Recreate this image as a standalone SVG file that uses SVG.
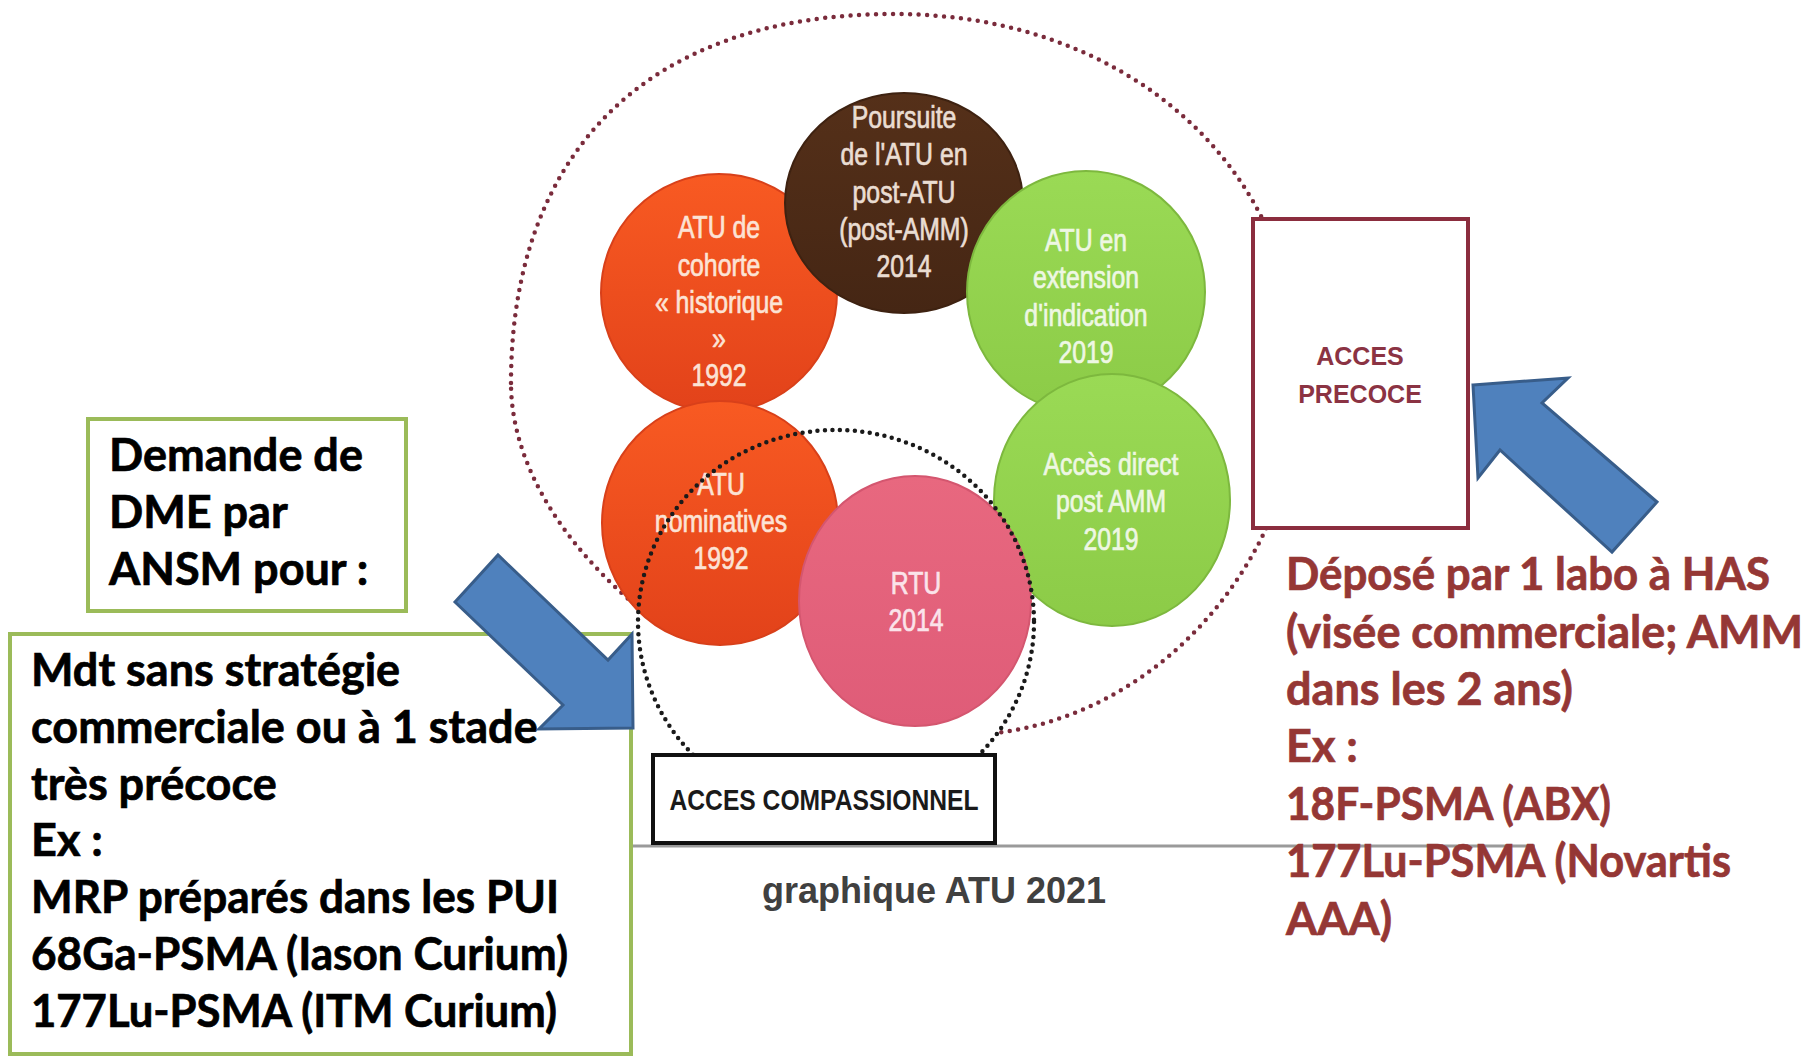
<svg xmlns="http://www.w3.org/2000/svg" width="1820" height="1060" viewBox="0 0 1820 1060">
<defs>
<style>
.maroonDots{fill:none;stroke:#7A2B3B;stroke-width:4.5;stroke-linecap:round;stroke-dasharray:0 8.5}
.blackDots{fill:none;stroke:#1A1A1A;stroke-width:4.5;stroke-linecap:round;stroke-dasharray:0 7.5}
.ctext{font-family:"Liberation Sans",Arial,sans-serif;font-size:31px;text-anchor:middle;stroke-width:0.7}
.bigtext{font-family:Lato,"Liberation Sans",sans-serif;font-weight:bold;font-size:45px;stroke-width:0.7}
.black{fill:#000;stroke:#000}
.maroon{fill:#953735;stroke:#953735}
.greenbox{fill:none;stroke:#9BBB59;stroke-width:4}
.arrow{fill:#4F81BD;stroke:#385D8A;stroke-width:3;stroke-linejoin:miter}
</style>
<linearGradient id="gOrange" x1="0" y1="0" x2="0" y2="1">
<stop offset="0" stop-color="#F85A22"/><stop offset="1" stop-color="#E2421A"/>
</linearGradient>
<linearGradient id="gBrown" x1="0" y1="0" x2="0" y2="1">
<stop offset="0" stop-color="#553019"/><stop offset="1" stop-color="#452614"/>
</linearGradient>
<linearGradient id="gGreen" x1="0" y1="0" x2="0" y2="1">
<stop offset="0" stop-color="#9ADA55"/><stop offset="1" stop-color="#8CCB47"/>
</linearGradient>
<linearGradient id="gPink" x1="0" y1="0" x2="0" y2="1">
<stop offset="0" stop-color="#E8687F"/><stop offset="1" stop-color="#DF5C78"/>
</linearGradient>
</defs>

<rect width="1820" height="1060" fill="#FFFFFF"/>

<g id="outlines">
<path id="precoce-ring" class="maroonDots" d="M511,383 C511,160 640,14 894,14 C1130,14 1300,170 1300,380 C1300,560 1150,735 960,735 C760,735 511,560 511,383 Z"/>
<ellipse cx="836" cy="622" rx="198" ry="192" fill="#FFFFFF"/>
</g>

<g id="node-cohorte">
<ellipse cx="719" cy="293" rx="118" ry="119" fill="url(#gOrange)" stroke="#D8401A" stroke-width="2"/>
<g class="ctext" fill="#FCE3D5" stroke="#FCE3D5" transform="translate(719,0) scale(0.8,1)">
<text x="0" y="238">ATU de</text>
<text x="0" y="276">cohorte</text>
<text x="0" y="313">« historique</text>
<text x="0" y="349">»</text>
<text x="0" y="386">1992</text>
</g>
</g>

<g id="node-poursuite">
<ellipse cx="904" cy="203" rx="119" ry="110" fill="url(#gBrown)" stroke="#3E2211" stroke-width="2"/>
<g class="ctext" fill="#EADDD2" stroke="#EADDD2" transform="translate(904,0) scale(0.8,1)">
<text x="0" y="128">Poursuite</text>
<text x="0" y="165">de l'ATU en</text>
<text x="0" y="203">post-ATU</text>
<text x="0" y="240">(post-AMM)</text>
<text x="0" y="277">2014</text>
</g>
</g>

<g id="node-extension">
<ellipse cx="1086" cy="292" rx="119" ry="121" fill="url(#gGreen)" stroke="#7DB83E" stroke-width="2"/>
<g class="ctext" fill="#EEF7E3" stroke="#EEF7E3" transform="translate(1086,0) scale(0.8,1)">
<text x="0" y="251">ATU en</text>
<text x="0" y="288">extension</text>
<text x="0" y="326">d'indication</text>
<text x="0" y="363">2019</text>
</g>
</g>

<g id="node-nominatives">
<ellipse cx="720" cy="523" rx="118" ry="122" fill="url(#gOrange)" stroke="#D8401A" stroke-width="2"/>
<g class="ctext" fill="#FCE3D5" stroke="#FCE3D5" transform="translate(721,0) scale(0.8,1)">
<text x="0" y="495">ATU</text>
<text x="0" y="532">nominatives</text>
<text x="0" y="569">1992</text>
</g>
</g>

<g id="node-acces-direct">
<ellipse cx="1112" cy="500" rx="118" ry="126" fill="url(#gGreen)" stroke="#7DB83E" stroke-width="2"/>
<g class="ctext" fill="#EEF7E3" stroke="#EEF7E3" transform="translate(1111,0) scale(0.8,1)">
<text x="0" y="475">Accès direct</text>
<text x="0" y="512">post AMM</text>
<text x="0" y="550">2019</text>
</g>
</g>

<g id="node-rtu">
<ellipse cx="915" cy="601" rx="116" ry="125" fill="url(#gPink)" stroke="#D4566F" stroke-width="2"/>
<g class="ctext" fill="#FBE3EA" stroke="#FBE3EA" transform="translate(916,0) scale(0.8,1)">
<text x="0" y="594">RTU</text>
<text x="0" y="631">2014</text>
</g>
</g>

<g id="compassionnel-ring">
<ellipse class="blackDots" cx="836" cy="622" rx="198" ry="192"/>
</g>

<g id="node-acces-precoce">
<rect x="1253" y="219" width="215" height="309" fill="#FFFFFF" stroke="#8B2D3E" stroke-width="4"/>
<text x="1360" y="365" font-family="'Liberation Sans',Arial,sans-serif" font-weight="bold" font-size="25" fill="#8B3343" text-anchor="middle">ACCES</text>
<text x="1360" y="403" font-family="'Liberation Sans',Arial,sans-serif" font-weight="bold" font-size="25" fill="#8B3343" text-anchor="middle">PRECOCE</text>
</g>

<g id="baseline">
<line x1="633" y1="846" x2="1535" y2="846" stroke="#9A9A9A" stroke-width="3"/>
</g>

<g id="node-acces-compassionnel">
<rect x="653" y="755" width="342" height="88" fill="#FFFFFF" stroke="#111111" stroke-width="4"/>
<text transform="translate(824,810) scale(0.85,1)" font-family="'Liberation Sans',Arial,sans-serif" font-weight="bold" font-size="29" fill="#1A1A1A" text-anchor="middle">ACCES COMPASSIONNEL</text>
</g>

<g id="caption">
<text x="934" y="903" font-family="'Liberation Sans',Arial,sans-serif" font-weight="bold" font-size="36" fill="#404040" text-anchor="middle">graphique ATU 2021</text>
</g>

<g id="node-demande">
<rect class="greenbox" x="88" y="419" width="318" height="192"/>
<text class="bigtext black" x="109" y="471">Demande de</text>
<text class="bigtext black" x="109" y="528">DME par</text>
<text class="bigtext black" x="109" y="585">ANSM pour :</text>
</g>

<g id="node-mdt">
<rect class="greenbox" x="10" y="634" width="621" height="420"/>
<text class="bigtext black" x="31" y="686">Mdt sans stratégie</text>
<text class="bigtext black" x="31" y="743">commerciale ou à 1 stade</text>
<text class="bigtext black" x="31" y="800">très précoce</text>
<text class="bigtext black" x="31" y="856">Ex :</text>
<text class="bigtext black" x="31" y="913" textLength="528" lengthAdjust="spacingAndGlyphs">MRP préparés dans les PUI</text>
<text class="bigtext black" x="31" y="970" textLength="537" lengthAdjust="spacingAndGlyphs">68Ga-PSMA (Iason Curium)</text>
<text class="bigtext black" x="31" y="1027" textLength="526" lengthAdjust="spacingAndGlyphs">177Lu-PSMA (ITM Curium)</text>
</g>

<g id="node-depose">
<text class="bigtext maroon" x="1286" y="590" textLength="484" lengthAdjust="spacingAndGlyphs">Déposé par 1 labo à HAS</text>
<text class="bigtext maroon" x="1286" y="648">(visée commerciale; AMM</text>
<text class="bigtext maroon" x="1286" y="705">dans les 2 ans)</text>
<text class="bigtext maroon" x="1286" y="762">Ex :</text>
<text class="bigtext maroon" x="1286" y="820" textLength="325" lengthAdjust="spacingAndGlyphs">18F-PSMA (ABX)</text>
<text class="bigtext maroon" x="1286" y="877" textLength="445" lengthAdjust="spacingAndGlyphs">177Lu-PSMA (Novartis</text>
<text class="bigtext maroon" x="1286" y="935">AAA)</text>
</g>

<g id="connectors">
<polygon class="arrow" points="455,602 498,555 608,660 632,634 633,728 539,729 563,705"/>
<polygon class="arrow" points="1473,385 1568,378 1542,403 1657,502 1612,552 1500,450 1478,478"/>
</g>
</svg>
